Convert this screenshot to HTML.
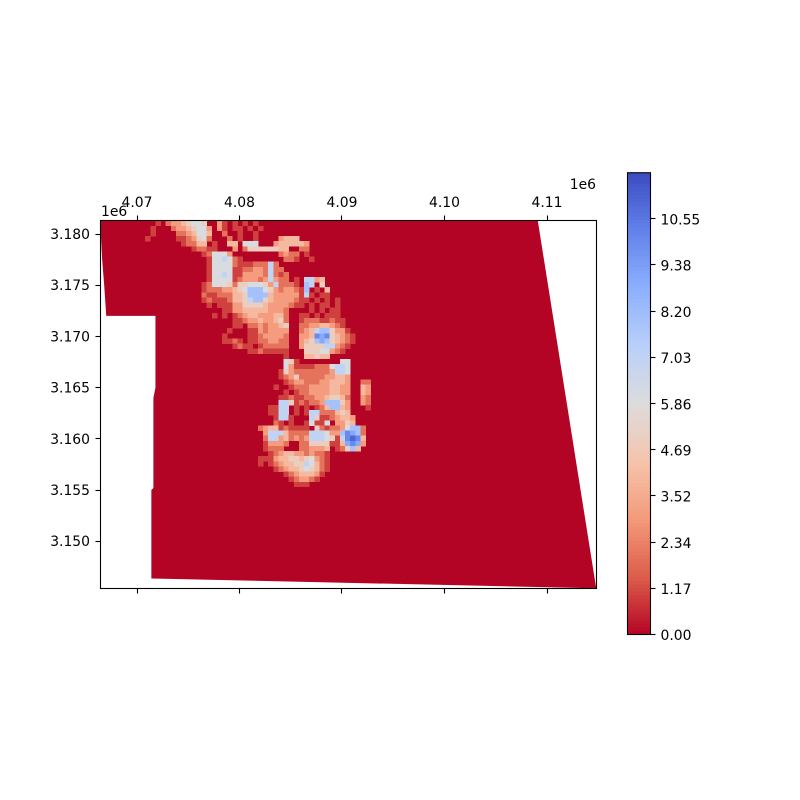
<!DOCTYPE html>
<html>
<head>
<meta charset="utf-8">
<title>Raster map with colorbar</title>
<style>
html,body{margin:0;padding:0;background:#fff;width:800px;height:800px;overflow:hidden}
svg{display:block}
text{font-family:"DejaVu Sans","Liberation Sans",sans-serif;font-size:13.9px;fill:#000}
</style>
</head>
<body>
<svg id="fig" xmlns="http://www.w3.org/2000/svg" width="800" height="800" viewBox="0 0 800 800">
  <defs><clipPath id="axclip"><rect x="100" y="221" width="496" height="367"/></clipPath></defs>
  <g id="raster" clip-path="url(#axclip)"></g>
  <g id="axes"></g>
  <g id="cbar"></g>
</svg>
<script>
// Tick values and labels
const xTickValues = [4.07, 4.08, 4.09, 4.10, 4.11];
const xTickLabels = ["4.07", "4.08", "4.09", "4.10", "4.11"];
const yTickValues = [3.180, 3.175, 3.170, 3.165, 3.160, 3.155, 3.150];
const yTickLabels = ["3.180", "3.175", "3.170", "3.165", "3.160", "3.155", "3.150"];
const cbarTickValues = [0, 1.17, 2.34, 3.52, 4.69, 5.86, 7.03, 8.20, 9.38, 10.55];
const cbarTickLabels = ["0.00", "1.17", "2.34", "3.52", "4.69", "5.86", "7.03", "8.20", "9.38", "10.55"];
const valueMax = 11.72;
// Valid-data footprint outline (x, y in units of 1e6)
const footprintX = [4.0664, 4.1091, 4.1148, 4.0714, 4.0714, 4.0716, 4.0716, 4.0718, 4.0718, 4.0670, 4.0668, 4.0666, 4.0664];
const footprintY = [3.1813, 3.1813, 3.1454, 3.14636, 3.1550, 3.1552, 3.1640, 3.1650, 3.1720, 3.1720, 3.1750, 3.1775, 3.1813];
// Heat raster: 500 m cells; '.'=0, digits and a/b = value. Spaces only group columns.
const gridX0 = 4.0703;
const gridY0 = 3.1813;
const gridStep = 0.0005;
const heatRows = [
"...1.233 45665..3 1.1.1.1. ........ ........ ........",
"..1...23 345663.3 1.11.1.1 ........ ........ ........",
"..1....2 234664.. 2..1..1. ........ ........ ........",
".1.....1 123562.. .2.1..1. ...3444. ........ ........",
"........ 12244.1. .44.666. ..344444 3....... ........",
"........ ..12211. ..3.2555 55544..2 2....... ........",
"........ ....1266 63...... ...2322. 1....... ........",
"........ .....166 7621.... ....221. .1...... ........",
"........ .....166 66211122 272..... ........ ........",
"........ .....166 66112233 2722.... ........ ........",
"........ .....166 76113333 27212... ........ ........",
"........ .....166 66123332 37322.1. 7734.... ........",
"........ ....1266 65255666 5372221. 87.5.... ........",
"........ ....1222 33456888 65323321 8.1.4... ........",
"........ ....2112 22445888 84333331 71.11... ........",
"........ ....1211 12445788 54333321 1.1.1.1. ........",
"........ .....1.1 11335555 43333211 .1.11.1. ........",
"........ ........ 11334444 43332... .1.1.11. ........",
"........ ......1. 1.123443 33442..1 1.1.111. ........",
"........ ........ ..112334 33452..1 22211211 ........",
"........ ........ ..11.223 23345..2 23344321 ........",
"........ ........ .1...113 23333..2 34788533 1.......",
"........ ........ 1....112 33332..3 34a9a543 21......",
"........ ........ 1121.112 23322..3 45898543 21......",
"........ ........ ..1211.1 22222..3 55557732 1.......",
"........ ........ .....112 11111... 55566321 ........",
"........ ........ ........ ....1... 44544... ........",
"........ ........ ........ ....651. .......6 6.......",
"........ ........ ........ ....6311 11222677 6.......",
"........ ........ ........ ...15322 22222377 6.......",
"........ ........ ........ ...12352 22223344 3.......",
"........ ........ ........ ....1233 22233444 3..22...",
"........ ........ ........ ..1..122 23333443 3..43...",
"........ ........ ........ ....1.12 23333443 3..43...",
"........ ........ ........ ...11211 22334554 2..32...",
"........ ........ ........ ...77512 12238885 3..32...",
"........ ........ ........ .1177.1. 1.124884 3...1...",
"........ ........ ........ .1177.1. 17722245 4.......",
"........ ........ ........ ..1771.. .7511234 43......",
"........ ........ ........ ..21.1.. 16116.33 54......",
"........ ........ .......2 34412111 1.521223 6882....",
"........ ........ ........ 37774222 27776338 a982....",
"........ ........ ........ 27734232 37776517 aba4....",
"........ ........ ........ 13332..2 25555114 9a93....",
"........ ........ ........ 1222...2 23334.12 584.....",
"........ ........ ........ .1234433 23221... ........",
"........ ........ .......1 11344554 56321... ........",
"........ ........ .......1 .1234455 76421... ........",
"........ ........ ........ ..123445 65421... ........",
"........ ........ ........ ....1234 4431.... ........",
"........ ........ ........ .....123 321..... ........",
"........ ........ ........ ......11 1....... ........"
];

const NS = "http://www.w3.org/2000/svg";
function X(v){ return 137 + (v - 4.07) * 10250; }
function Y(v){ return 234 + (3.18 - v) * 10240; }
function CB(v){ return 634.5 - v * 39.4; }

const cmapStops = ["#b40426","#dc5d4a","#f49a7b","#f5c4ac","#dddcdc","#b9d0f9","#8db0fe","#6282ea","#3b4cc0"];
function hex(c){ return [1,3,5].map(function(i){ return parseInt(c.substr(i,2),16); }); }
function color(v){
  const t = Math.max(0, Math.min(1, v / valueMax)) * (cmapStops.length - 1);
  const i = Math.min(cmapStops.length - 2, Math.floor(t));
  const a = hex(cmapStops[i]), b = hex(cmapStops[i + 1]), f = t - i;
  return "rgb(" + a.map(function(p, k){ return Math.round(p + (b[k] - p) * f); }).join(",") + ")";
}
function mk(parent, tag, attrs, txt){
  const el = document.createElementNS(NS, tag);
  for (const k in attrs) el.setAttribute(k, attrs[k]);
  if (txt !== undefined) el.textContent = txt;
  parent.appendChild(el);
  return el;
}
function snap(p){ return Math.floor(p) + 0.5; }

const raster = document.getElementById("raster");
const axes = document.getElementById("axes");
const cbar = document.getElementById("cbar");

// Footprint
const footprint = mk(raster, "polygon", {
  points: footprintX.map(function(x, i){ return X(x) + "," + Y(footprintY[i]); }).join(" "),
  fill: color(0)
});



// Heat cells (zero cells are the footprint colour, so only non-zero values paint)
heatRows.forEach(function(row, j){
  const cells = row.replace(/ /g, "");
  for (let i = 0; i < cells.length; i++) {
    const ch = cells[i];
    const v = ch === "." ? 0 : parseInt(ch, 36);
    if (v <= 0) continue;
    const x0 = X(gridX0 + i * gridStep), x1 = X(gridX0 + (i + 1) * gridStep);
    const y0 = Y(gridY0 - j * gridStep), y1 = Y(gridY0 - (j + 1) * gridStep);
    const cell = mk(raster, "rect", {
      x: x0, y: y0, width: x1 - x0 + 0.3, height: y1 - y0 + 0.3,
      fill: color(v), "shape-rendering": "crispEdges"
    });
    
    
  }
});

// Axes frame
const frame = mk(axes, "rect", {x: 100.5, y: 220.5, width: 496, height: 368, fill: "none", stroke: "#000", "stroke-width": 1.1});



xTickValues.forEach(function(v, i){
  const px = snap(X(v));
  const top = mk(axes, "line", {x1: px, x2: px, y1: 220.5, y2: 215.5, stroke: "#000", "stroke-width": 1.1});
  
  
  const bottom = mk(axes, "line", {x1: px, x2: px, y1: 588.5, y2: 593.5, stroke: "#000", "stroke-width": 1.1});
  
  
  const label = mk(axes, "text", {x: X(v), y: 207, "text-anchor": "middle"}, xTickLabels[i]);
  
  
});
yTickValues.forEach(function(v, i){
  const py = snap(Y(v));
  const tick = mk(axes, "line", {x1: 100.5, x2: 95.5, y1: py, y2: py, stroke: "#000", "stroke-width": 1.1});
  
  
  const label = mk(axes, "text", {x: 90, y: Y(v) + 5, "text-anchor": "end"}, yTickLabels[i]);
  
  
});
const offLeft = mk(axes, "text", {x: 101, y: 216}, "1e6");


const offRight = mk(axes, "text", {x: 596, y: 189, "text-anchor": "end"}, "1e6");



// Colorbar
const steps = 128;
for (let s = 0; s < steps; s++) {
  const v0 = valueMax * s / steps, v1 = valueMax * (s + 1) / steps;
  const band = mk(cbar, "rect", {
    x: 627.5, y: CB(v1), width: 23, height: CB(v0) - CB(v1) + 0.4,
    fill: color((v0 + v1) / 2), "shape-rendering": "crispEdges"
  });
  
  
}
const cbFrame = mk(cbar, "rect", {x: 627.5, y: CB(valueMax), width: 23, height: CB(0) - CB(valueMax), fill: "none", stroke: "#000", "stroke-width": 1.1});


cbarTickValues.forEach(function(v, i){
  const py = snap(CB(v));
  const tick = mk(cbar, "line", {x1: 650.5, x2: 655.5, y1: py, y2: py, stroke: "#000", "stroke-width": 1.1});
  
  
  const label = mk(cbar, "text", {x: 660.5, y: CB(v) + 5.7}, cbarTickLabels[i]);
  
  
});
</script>
</body>
</html>
